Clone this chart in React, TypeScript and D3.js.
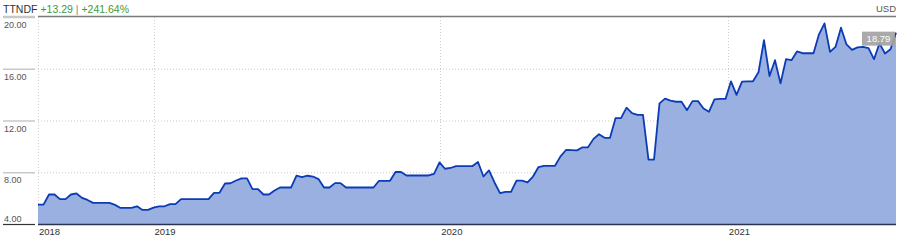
import React from "react";
import * as d3 from "d3";

const TICKER = "TTNDF";
const CHANGE_ABS = "+13.29";
const CHANGE_PCT = "+241.64%";
const CURRENCY = "USD";
const START_DATE = "2018-08-07";
const Y_TICKS = [4, 8, 12, 16, 20];
const YEAR_TICKS = ["2019-01-01", "2020-01-01", "2021-01-01"];
const FIRST_YEAR_LABEL = "2018";

// weekly closing prices
const PRICES = [
  5.50, 5.50, 6.28, 6.28, 5.92, 5.92, 6.28, 6.36, 6.02, 5.86,
  5.63, 5.63, 5.63, 5.63, 5.48, 5.24, 5.24, 5.24, 5.37, 5.09,
  5.09, 5.27, 5.37, 5.37, 5.53, 5.53, 5.92, 5.92, 5.92, 5.92,
  5.92, 5.92, 6.41, 6.41, 7.13, 7.15, 7.36, 7.52, 7.52, 6.70,
  6.70, 6.28, 6.28, 6.59, 6.82, 6.82, 6.82, 7.73, 7.63, 7.73,
  7.67, 7.47, 6.82, 6.82, 7.16, 7.16, 6.82, 6.82, 6.82, 6.82,
  6.82, 6.82, 7.34, 7.34, 7.34, 8.02, 8.02, 7.75, 7.75, 7.75,
  7.75, 7.75, 7.88, 8.76, 8.27, 8.33, 8.48, 8.48, 8.48, 8.48,
  8.79, 7.67, 8.14, 7.21, 6.38, 6.49, 6.49, 7.36, 7.36, 7.21,
  7.67, 8.40, 8.50, 8.50, 8.50, 9.23, 9.72, 9.71, 9.69, 9.93,
  9.93, 10.58, 10.94, 10.66, 10.66, 12.18, 12.18, 12.99, 12.57, 12.44,
  12.44, 8.97, 8.97, 13.32, 13.69, 13.53, 13.45, 13.45, 12.80, 13.50,
  13.50, 12.93, 12.68, 13.63, 13.67, 13.67, 15.03, 13.98, 15.01, 15.03,
  15.03, 15.73, 18.21, 15.44, 16.66, 14.87, 16.74, 16.66, 17.34, 17.20,
  17.20, 17.20, 18.66, 19.51, 17.30, 17.69, 19.17, 17.88, 17.46, 17.65,
  17.69, 17.59, 16.74, 17.96, 17.18, 17.51, 18.79,
];

const W = 900;
const H = 240;
const FONT = "'Liberation Sans', Arial, sans-serif";

export default function App() {
  const start = new Date(START_DATE + "T00:00:00");
  const data = PRICES.map((v, i) => ({ date: d3.timeDay.offset(start, i * 7), value: v }));

  const left = 38;
  const right = 896;
  const top = 17;
  const bottom = 224;

  const x = d3
    .scaleTime()
    .domain([data[0].date, data[data.length - 1].date])
    .range([left, right]);
  const y = d3.scaleLinear().domain([4, 20]).range([bottom, top]);

  const area = d3
    .area<{ date: Date; value: number }>()
    .x((d) => x(d.date))
    .y0(bottom)
    .y1((d) => y(d.value));
  const line = d3
    .line<{ date: Date; value: number }>()
    .x((d) => x(d.date))
    .y((d) => y(d.value));

  const last = data[data.length - 1];
  const lastY = y(last.value);

  return (
    <svg
      width={W}
      height={H}
      style={{ position: "absolute", left: 0, top: 0, background: "#fff" }}
      fontFamily={FONT}
    >
      {/* header */}
      <text x={3} y={13} fontSize={10.5} fill="#333">
        {TICKER}
        <tspan dx={3} fill="#3d9b35">{CHANGE_ABS}</tspan>
        <tspan fill="#888"> | </tspan>
        <tspan fill="#3d9b35">{CHANGE_PCT}</tspan>
      </text>
      <text x={896} y={12} fontSize={9.5} fill="#555" textAnchor="end">
        {CURRENCY}
      </text>

      {/* horizontal grid lines */}
      {Y_TICKS.map((t) => (
        <g key={t}>
          {t !== 4 && t !== 20 && (
            <line
              x1={left}
              x2={right}
              y1={y(t) + 0.5}
              y2={y(t) + 0.5}
              stroke="#c8c8c8"
              strokeDasharray="1,2"
            />
          )}
          <line
            x1={3}
            x2={35}
            y1={y(t) + 0.5}
            y2={y(t) + 0.5}
            stroke={t === 4 ? "#333" : "#c8c8c8"}
            strokeWidth={t === 4 ? 1.2 : 1.5}
          />
          <text
            x={4}
            y={t === 4 ? y(t) - 2 : y(t) + 11}
            fontSize={9}
            fill="#555"
          >
            {d3.format(".2f")(t)}
          </text>
        </g>
      ))}

      {/* vertical grid lines */}
      <line x1={left + 0.5} x2={left + 0.5} y1={top} y2={bottom} stroke="#d0d0d0" strokeDasharray="1,2" />
      {YEAR_TICKS.map((d) => {
        const xx = Math.round(x(new Date(d + "T00:00:00"))) + 0.5;
        return (
          <line key={d} x1={xx} x2={xx} y1={top} y2={bottom} stroke="#d0d0d0" strokeDasharray="1,2" />
        );
      })}

      {/* area + line */}
      <path d={area(data) || ""} fill="#99b0e1" />
      <path d={line(data) || ""} fill="none" stroke="#0b3cb5" strokeWidth={1.8} strokeLinejoin="round" />

      {/* top line */}
      <line x1={3} x2={35} y1={top - 0.5} y2={top - 0.5} stroke="#c8c8c8" strokeWidth={1.5} />
      <line x1={left} x2={right} y1={top - 0.5} y2={top - 0.5} stroke="#7a7a7a" strokeWidth={1.5} />

      {/* bottom axis */}
      <line x1={left} x2={right} y1={bottom + 0.5} y2={bottom + 0.5} stroke="#2b3350" strokeWidth={1.5} />

      {/* x labels */}
      <text x={left + 1} y={235} fontSize={9.5} fill="#333">
        {FIRST_YEAR_LABEL}
      </text>
      {YEAR_TICKS.map((d) => {
        const dt = new Date(d + "T00:00:00");
        return (
          <text key={d} x={x(dt) + 1} y={235} fontSize={9.5} fill="#333">
            {d3.timeFormat("%Y")(dt)}
          </text>
        );
      })}

      {/* last price label */}
      <rect x={862} y={lastY - 1} width={33} height={14} fill="#a3a3a3" opacity={0.92} />
      <text x={878.5} y={lastY + 9.5} fontSize={9.5} fill="#fff" textAnchor="middle">
        {d3.format(".2f")(last.value)}
      </text>
    </svg>
  );
}
